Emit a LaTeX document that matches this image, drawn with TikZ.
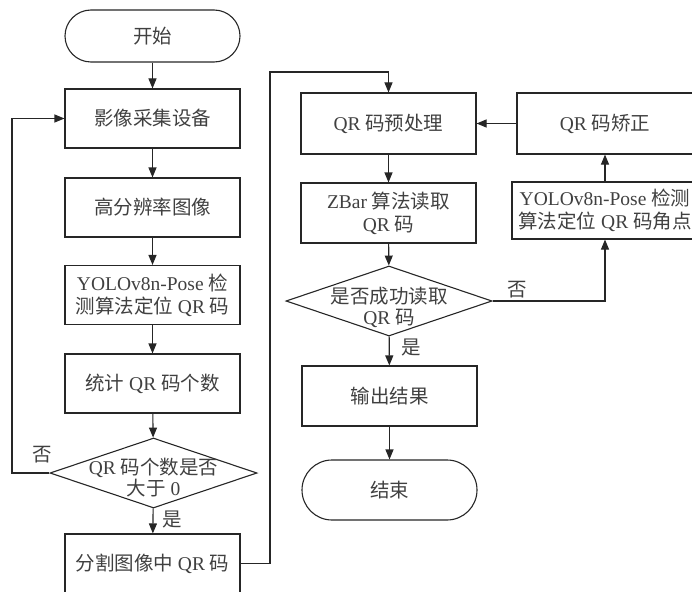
\documentclass[tikz,border=0pt]{standalone}
\usepackage{fontspec}
\setmainfont{Liberation Serif}
\newfontfamily\cjk{Noto Sans CJK SC}
\usetikzlibrary{shapes.geometric,arrows.meta}
\newcommand\zh[1]{{\cjk #1}}
\begin{document}
\begin{tikzpicture}[x=1pt,y=-1pt,
  every node/.style={font=\fontsize{19.5}{24}\selectfont, text=black!75},
  line/.style={draw=black!85, line width=1.1pt},
  arr/.style={line, -{Triangle[length=10pt,width=8pt]}},
  box/.style={line, rectangle, minimum width=175pt, minimum height=60pt, inner sep=0pt, align=center},
  term/.style={box, rounded corners=26pt},
  dia/.style={line, diamond, minimum width=207pt, minimum height=70pt, inner sep=0pt},
  lab/.style={inner sep=0pt}
]
\useasboundingbox (0,0) rectangle (692,591);
% left column
\node[term, minimum height=52pt] (start) at (152.5,36) {\zh{开始}};
\node[box, minimum height=59pt] (b1) at (152.5,118.5) {\zh{影像采集设备}};
\node[box, minimum height=59pt] (b2) at (152.5,207.5) {\zh{高分辨率图像}};
\node[box, minimum height=59pt] (b3) at (152.5,295) {YOLOv8n-Pose \zh{检}\\[-1pt]\zh{测算法定位} QR \zh{码}};
\node[box, minimum height=59pt] (b4) at (152.5,383.5) {\zh{统计} QR \zh{码个数}};
\node[dia] (d1) at (153.5,473) {};
\node[lab, align=center, font=\fontsize{19.5}{21}\selectfont] (d1t) at ([yshift=-5pt]d1.center) {QR \zh{码个数是否}\\\zh{大于} 0};
\node[box, minimum height=59pt] (b5) at (152.5,563.5) {\zh{分割图像中} QR \zh{码}};
\node[lab] (no1) at (42,455) {\zh{否}};
\node[lab] (yes1) at (172,519) {\zh{是}};
% middle column
\node[box, minimum height=61pt] (p1) at (388.5,123.5) {QR \zh{码预处理}};
\node[box] (p2) at (388.5,213) {ZBar \zh{算法读取}\\[-1pt]QR \zh{码}};
\node[dia, minimum width=206pt] (d2) at (389,301) {};
\node[lab, align=center, font=\fontsize{19.5}{21}\selectfont] (d2t) at ([yshift=-6pt]d2.center) {\zh{是否成功读取}\\QR \zh{码}};
\node[box] (p3) at (389.5,396) {\zh{输出结果}};
\node[term, rounded corners=30pt] (end) at (389.5,490) {\zh{结束}};
\node[lab] (yes2) at (411,347) {\zh{是}};
\node[lab] (no2) at (517,290) {\zh{否}};
% right column
\node[box, minimum width=176pt, minimum height=61pt] (r1) at (605,123.5) {QR \zh{码矫正}};
\node[box, minimum width=186pt, minimum height=57pt] (r2) at (605,210.5) {YOLOv8n-Pose \zh{检测}\\[-1pt]\zh{算法定位} QR \zh{码角点}};
% helper coordinates
\coordinate (L) at (12,0);
\coordinate (M) at (270,72);
% connectors
\draw[arr] (start) -- (b1);
\draw[arr] (b1) -- (b2);
\draw[arr] (b2) -- (b3);
\draw[arr] (b3) -- (b4);
\draw[arr] (b4) -- (d1);
\draw[arr] (d1) -- (b5);
\draw[arr] (d1.west) -- (d1.west -| L) -- (b1.west -| L) -- (b1.west);
\draw[arr] (b5.east) -- (b5.east -| M) -- (M) -- (M -| p1.north) -- (p1.north);
\draw[arr] (p1) -- (p2);
\draw[arr] (p2) -- (d2);
\draw[arr] (d2) -- (p3);
\draw[arr] (p3) -- (end);
\draw[arr] (d2.east) -| (r2.south);
\draw[arr] (r2) -- (r1);
\draw[arr] (r1) -- (p1);
\end{tikzpicture}
\end{document}
